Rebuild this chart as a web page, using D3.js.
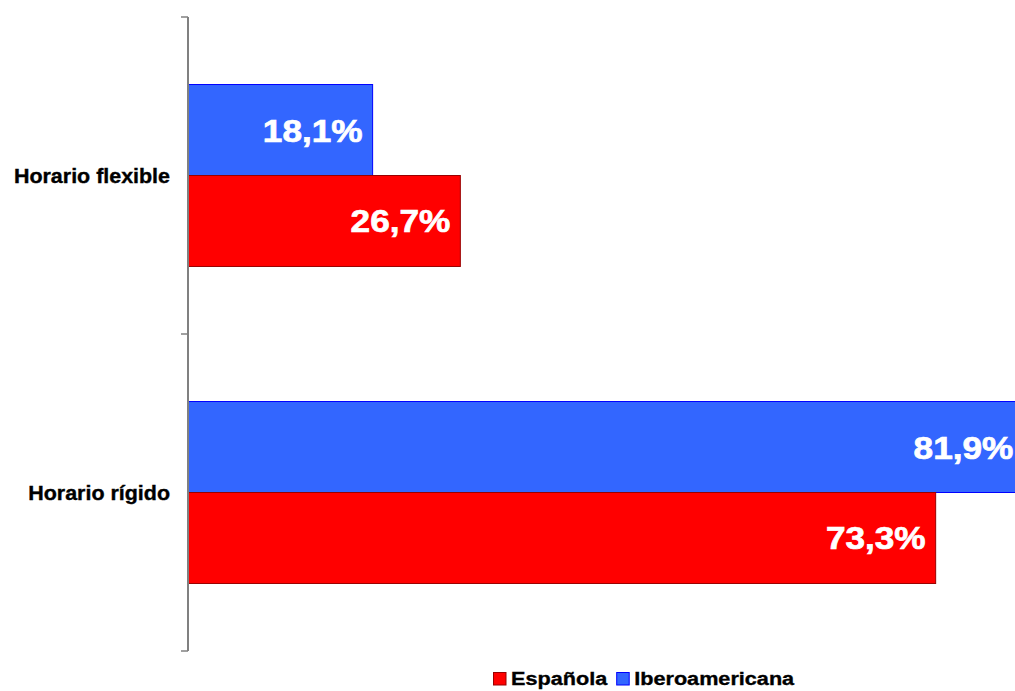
<!DOCTYPE html>
<html>
<head>
<meta charset="utf-8">
<script src="https://cdn.jsdelivr.net/npm/d3@7"></script>
<style>
  html, body { margin: 0; padding: 0; background: #fff; }
  svg { display: block; }
  text { font-family: Arial, "Liberation Sans", sans-serif; font-weight: bold; }
</style>
</head>
<body>
<svg id="chart" width="1015" height="691"></svg>
<script>
// Categories (top to bottom) and series
const categories = ["Horario flexible", "Horario rígido"];
const seriesNames = ["Iberoamericana", "Española"];
const iberoamericana = [18.1, 81.9];
const espanola = [26.7, 73.3];
const legendOrder = ["Española", "Iberoamericana"];

const colors = {
  "Española": { fill: "#FF0000", stroke: "#990000" },
  "Iberoamericana": { fill: "#3366FF", stroke: "#0000FF" }
};

const values = { "Iberoamericana": iberoamericana, "Española": espanola };
const rows = [];
categories.forEach((c, i) => {
  seriesNames.forEach(s => rows.push({ cat: c, series: s, value: values[s][i] }));
});

const svg = d3.select("#chart");
const stretch = 1.1; // horizontal text stretch

const x = d3.scaleLinear().domain([0, 100]).range([188, 1208]);
const y0 = d3.scaleBand().domain(categories).range([17, 651]).paddingInner(0).paddingOuter(0);
const y1 = d3.scaleBand().domain(seriesNames).range([0, y0.bandwidth()]).paddingInner(0).paddingOuter(0.742);

const fmt = v => d3.format(".1f")(v).replace(".", ",") + "%";

// Bars
svg.append("g").selectAll("rect").data(rows).join("rect")
  .attr("x", x(0))
  .attr("y", d => y0(d.cat) + y1(d.series))
  .attr("width", d => x(d.value) - x(0))
  .attr("height", y1.bandwidth())
  .attr("fill", d => colors[d.series].fill)
  .attr("stroke", d => colors[d.series].stroke)
  .attr("stroke-width", 1);

// Value labels inside bar ends
svg.append("g").selectAll("text").data(rows).join("text")
  .attr("transform", d => `translate(${x(d.value) - 10},${y0(d.cat) + y1(d.series) + y1.bandwidth() / 2 + 11.5}) scale(${stretch},1)`)
  .attr("text-anchor", "end")
  .attr("fill", "#fff")
  .attr("stroke", "#fff")
  .attr("stroke-width", 0.7)
  .style("font-size", "32px")
  .text(d => fmt(d.value));

// Category axis: line with ticks at band boundaries
const axis = svg.append("g");
const bounds = [y0.range()[0], ...categories.map(c => y0(c) + y0.bandwidth())];
axis.append("line")
  .attr("x1", x(0)).attr("x2", x(0))
  .attr("y1", bounds[0]).attr("y2", bounds[bounds.length - 1])
  .attr("stroke", "#808080").attr("stroke-width", 2);
axis.selectAll("line.tick").data(bounds).join("line")
  .attr("class", "tick")
  .attr("x1", x(0) - 7).attr("x2", x(0))
  .attr("y1", d => d).attr("y2", d => d)
  .attr("stroke", "#808080").attr("stroke-width", 1.5);

axis.selectAll("text").data(categories).join("text")
  .attr("transform", c => `translate(170,${y0(c) + y1("Española") + 7}) scale(${stretch},1)`)
  .attr("text-anchor", "end")
  .attr("fill", "#000")
  .attr("stroke", "#000")
  .attr("stroke-width", 0.35)
  .style("font-size", "19.5px")
  .text(c => c);

// Legend
const legendStretch = 1.17;
const legend = svg.append("g").attr("transform", "translate(493,672)");
let lx = 0;
legendOrder.forEach(name => {
  const g = legend.append("g").attr("transform", `translate(${lx},0)`);
  g.append("rect").attr("x", 0.5).attr("y", 0.5).attr("width", 12.5).attr("height", 12.5)
    .attr("fill", colors[name].fill).attr("stroke", colors[name].stroke);
  const t = g.append("text")
    .attr("transform", `translate(18,13.2) scale(${legendStretch},1)`)
    .attr("fill", "#000")
    .attr("stroke", "#000")
    .attr("stroke-width", 0.35)
    .style("font-size", "18.5px")
    .text(name);
  lx += 18 + t.node().getComputedTextLength() * legendStretch + 9;
});
</script>
</body>
</html>
